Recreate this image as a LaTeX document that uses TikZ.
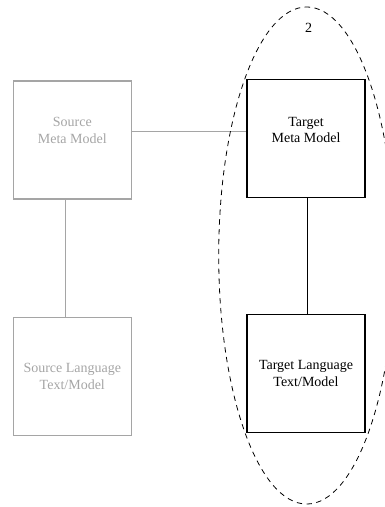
\documentclass[tikz,border=0pt]{standalone}
\usepackage{fontspec}
\setmainfont{Liberation Serif}
\definecolor{srcgray}{RGB}{165,165,165}
\begin{document}
\begin{tikzpicture}[x=0.75pt,y=-0.75pt,
  model/.style={draw, line width=1pt, minimum width=88.5pt, minimum height=88.5pt,
    inner sep=0pt},
  caption/.style={align=center, font=\fontsize{10.5}{12.5}\selectfont},
  source/.style={model, draw=srcgray},
  target/.style={model, draw=black},
  srclink/.style={draw=srcgray, line width=1pt},
  tgtlink/.style={draw=black, line width=1pt},
  group/.style={dashed, dash pattern=on 4pt off 3.4pt, line width=0.6pt}]
\clip (0,0) rectangle (385,507);

% source side (greyed out)
\node[source, label={[name=smt, caption, text=srcgray, yshift=7pt]center:Source\\Meta Model}]
  (sm) at (72.3,140) {};
\node[source, label={[name=slt, caption, text=srcgray]center:Source Language\\Text/Model\hspace{8pt}}]
  (sl) at (72.3,376.5) {};

% target side
\node[target, label={[name=tmt, caption, yshift=6.5pt]center:Target\\Meta Model}]
  (tm) at (306,138.7) {};
\node[target, label={[name=tlt, caption]center:Target Language\\Text/Model}]
  (tl) at (306,373.5) {};

% connectors
\draw[srclink] ([yshift=6.4pt]sm.east) -- ([yshift=6.4pt]sm.east -| tm.west);
\draw[srclink] ([xshift=-5.2pt]sm.south) -- ([xshift=-5.2pt]sm.south |- sl.north);
\draw[tgtlink] ([xshift=1pt]tm.south) -- ([xshift=1pt]tl.north);

% dashed group around the target side
\draw[group] (306.7,255.5) ellipse [x radius=66pt, y radius=186.4pt];
\node[caption] (grp) at (308.5,27.5) {2};
\end{tikzpicture}
\end{document}
